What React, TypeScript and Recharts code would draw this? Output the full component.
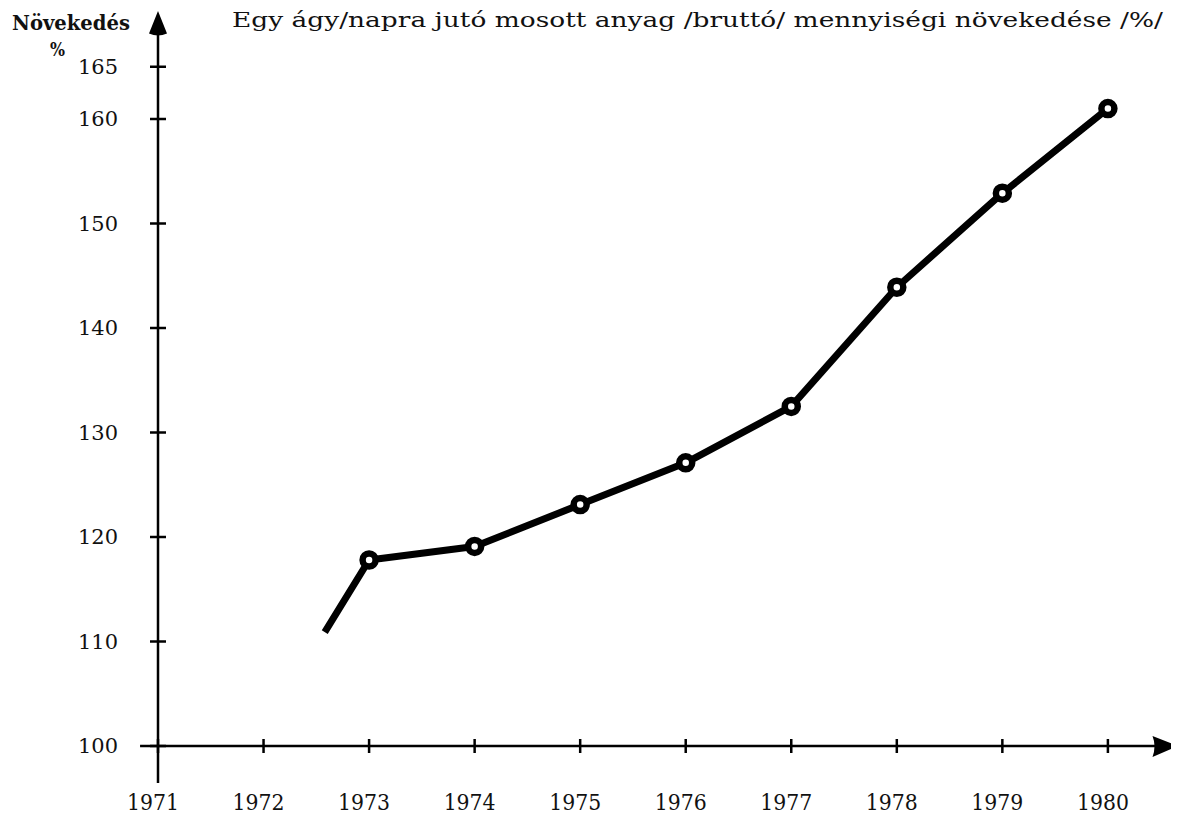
import React from "react";
import { LineChart, Line, XAxis, YAxis, ReferenceLine, ReferenceDot } from "recharts";

const years = [1972.58, 1973, 1974, 1975, 1976, 1977, 1978, 1979, 1980];
const values = [110.9, 117.8, 119.1, 123.1, 127.1, 132.5, 143.9, 152.9, 161.0];
const xTicks = [1971, 1972, 1973, 1974, 1975, 1976, 1977, 1978, 1979, 1980];
const yTicks = [100, 110, 120, 130, 140, 150, 160, 165];
const titleText = "Egy ágy/napra jutó mosott anyag /bruttó/ mennyiségi növekedése /%/";
const yAxisTitle = "Növekedés";
const yAxisUnit = "%";

const data = years.map((y, i) => ({ year: y, value: values[i] }));

const FONT = "'DejaVu Serif', 'Liberation Serif', serif";
const INK = "#111";

const XTick = (props: any) => {
  const { x, y, payload } = props;
  return (
    <g>
      <line x1={x} x2={x} y1={y - 7} y2={y + 7} stroke="#000" strokeWidth={2.5} />
      <text
        x={x - 5}
        y={y + 64}
        textAnchor="middle"
        fontFamily={FONT}
        fontSize={23}
        fill={INK}
        textLength={52}
        lengthAdjust="spacingAndGlyphs"
      >
        {payload.value}
      </text>
    </g>
  );
};

const YTick = (props: any) => {
  const { x, y, payload } = props;
  return (
    <g>
      <line x1={x - 8} x2={x + 8} y1={y} y2={y} stroke="#000" strokeWidth={2.5} />
      <text
        x={x - 40}
        y={y + 7}
        textAnchor="end"
        fontFamily={FONT}
        fontSize={21}
        fill={INK}
        textLength={40}
        lengthAdjust="spacingAndGlyphs"
      >
        {payload.value}
      </text>
    </g>
  );
};

const Dot = (props: any) => {
  const { cx, cy, index } = props;
  if (index === 0) return <g key={`d${index}`} />;
  return <circle key={`d${index}`} cx={cx} cy={cy} r={6.5} fill="#fff" stroke="#000" strokeWidth={6.5} />;
};

const UpArrow = (p: any) => (
  <path
    d={`M ${p.cx} ${p.cy - 3.5} L ${p.cx - 9} ${p.cy + 19} Q ${p.cx} ${p.cy + 23} ${p.cx + 9} ${p.cy + 19} Z`}
    fill="#000"
  />
);
const RightArrow = (p: any) => (
  <path
    d={`M ${p.cx + 1.5} ${p.cy} L ${p.cx - 24} ${p.cy - 10} Q ${p.cx - 20} ${p.cy} ${p.cx - 24} ${p.cy + 11} Z`}
    fill="#000"
  />
);

export default function App() {
  return (
    <div style={{ position: "relative", width: 1179, height: 818, margin: -8, background: "#fff" }}>
      <LineChart width={1179} height={818} data={data} margin={{ top: 14.5, right: 2.5, bottom: 0, left: 0 }}>
        <XAxis
          dataKey="year"
          type="number"
          domain={[1971, 1980.65]}
          ticks={xTicks}
          allowDataOverflow
          axisLine={false}
          tickLine={false}
          tickSize={0}
          tickMargin={0}
          height={72}
          tick={<XTick />}
          interval={0}
        />
        <YAxis
          type="number"
          domain={[100, 170]}
          ticks={yTicks}
          allowDataOverflow
          axisLine={false}
          tickLine={false}
          tickSize={0}
          tickMargin={0}
          width={158}
          tick={<YTick />}
          interval={0}
        />
        <ReferenceLine
          segment={[{ x: 1971, y: 96.46 }, { x: 1971, y: 169 }]}
          stroke="#000"
          strokeWidth={2.5}
          ifOverflow="visible"
        />
        <ReferenceLine
          segment={[{ x: 1970.83, y: 100 }, { x: 1980.5, y: 100 }]}
          stroke="#000"
          strokeWidth={2.5}
          ifOverflow="visible"
        />
        <ReferenceDot x={1971} y={170} r={0} shape={UpArrow} ifOverflow="visible" />
        <ReferenceDot x={1980.65} y={100} r={0} shape={RightArrow} ifOverflow="visible" />
        <Line
          type="linear"
          dataKey="value"
          stroke="#000"
          strokeWidth={7}
          strokeLinejoin="round"
          dot={Dot}
          activeDot={false}
          isAnimationActive={false}
        />
      </LineChart>
      <svg
        width={1179}
        height={818}
        style={{ position: "absolute", left: 0, top: 0, pointerEvents: "none" }}
      >
        <text
          x={12}
          y={30}
          fontFamily={FONT}
          fontSize={20.5}
          fontWeight="bold"
          fill={INK}
          textLength={118}
          lengthAdjust="spacingAndGlyphs"
        >
          {yAxisTitle}
        </text>
        <text x={50} y={56} fontFamily={FONT} fontSize={18} fontWeight="bold" fill={INK} textLength={15} lengthAdjust="spacingAndGlyphs">
          {yAxisUnit}
        </text>
        <text
          x={232}
          y={27}
          fontFamily={FONT}
          fontSize={20.5}
          fill={INK}
          textLength={931}
          lengthAdjust="spacingAndGlyphs"
        >
          {titleText}
        </text>
      </svg>
    </div>
  );
}
